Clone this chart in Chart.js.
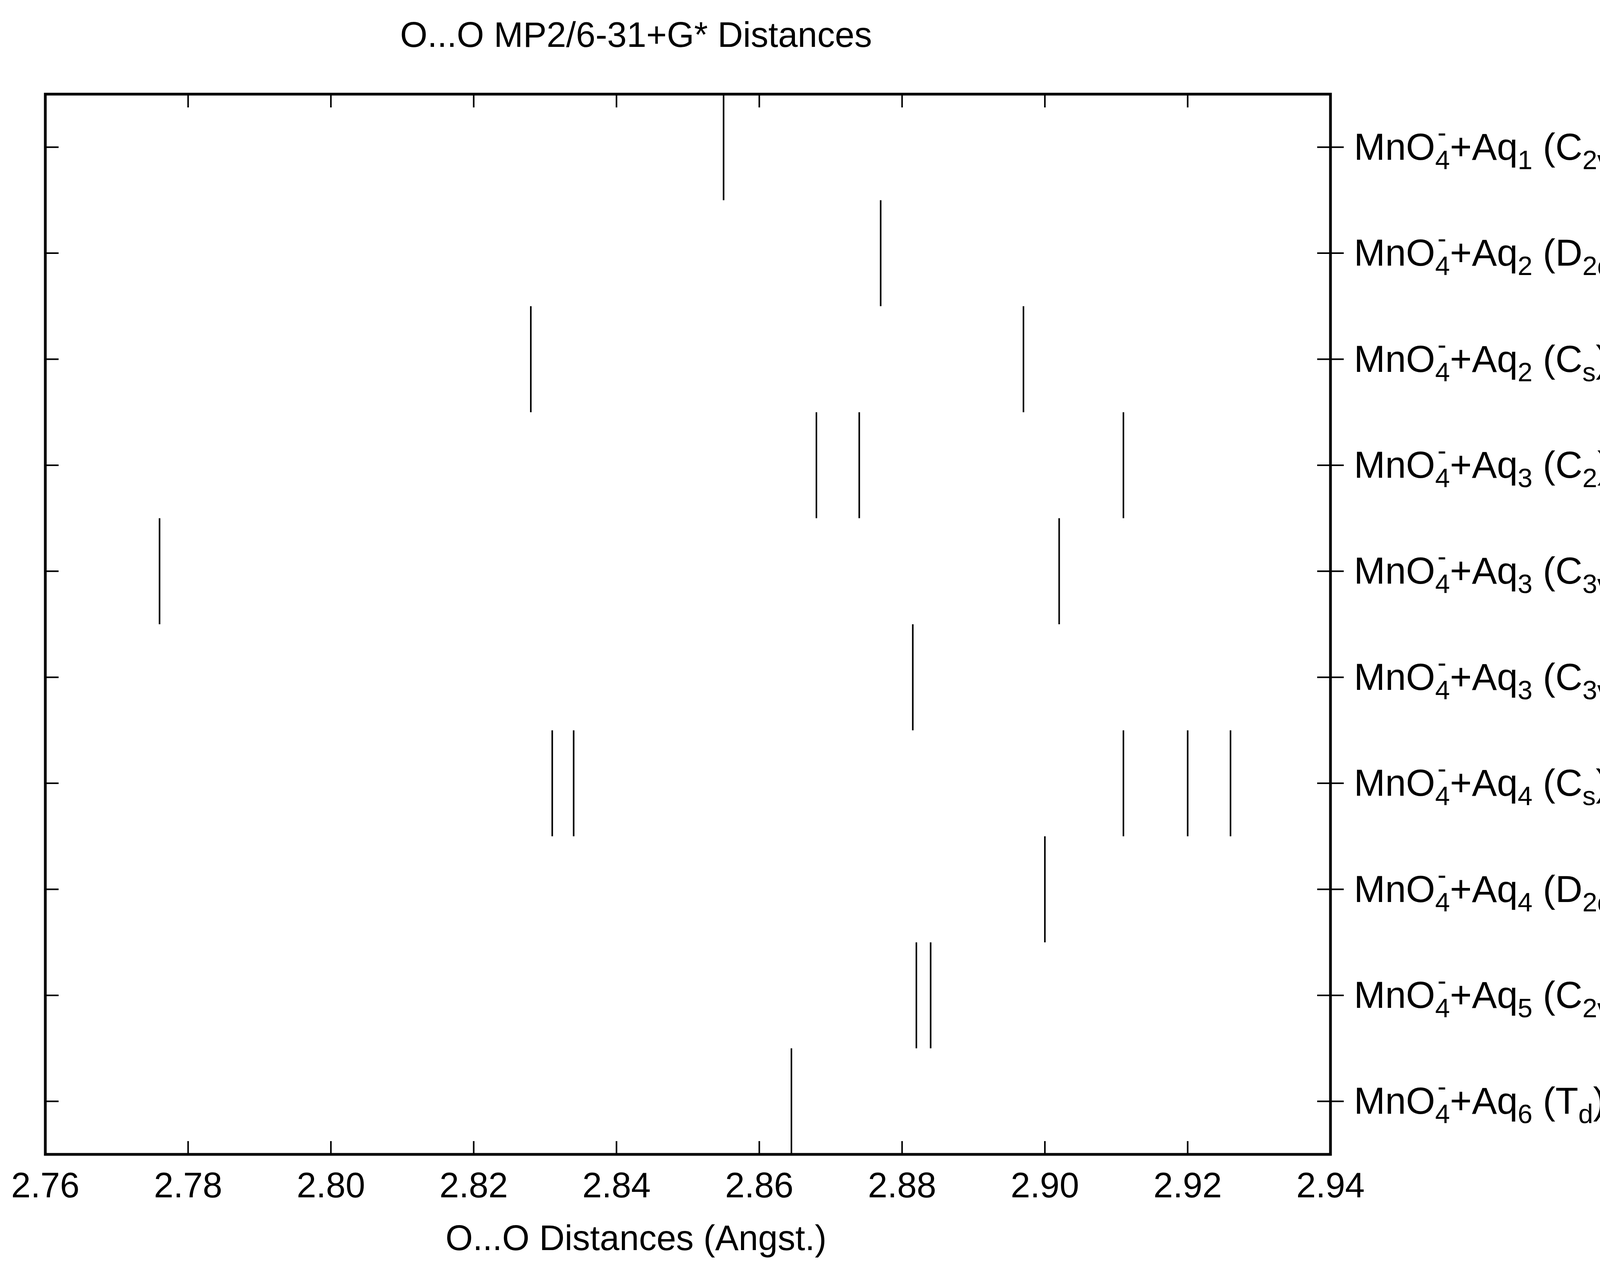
<!DOCTYPE html>
<html>
<head>
<meta charset="utf-8">
<script src="https://cdn.jsdelivr.net/npm/chart.js@4/dist/chart.umd.min.js"></script>
<style>
  html, body { margin: 0; padding: 0; background: #fff; }
  #wrap { width: 4342px; height: 3251px; }
</style>
</head>
<body>
<div id="wrap"><canvas id="chart"></canvas></div>
<script>
// rows from top to bottom
const rowLabels = [
  ['1', 'C', '2v', ''],
  ['2', 'D', '2d', ''],
  ['2', 'C', 's', ''],
  ['3', 'C', '2', ''],
  ['3', 'C', '3v', ' # 1'],
  ['3', 'C', '3v', ' # 2'],
  ['4', 'C', 's', ''],
  ['4', 'D', '2d', ''],
  ['5', 'C', '2v', ''],
  ['6', 'T', 'd', '']
];
const distances = [
  [2.855],
  [2.877],
  [2.828, 2.897],
  [2.868, 2.874, 2.911],
  [2.776, 2.902],
  [2.8815],
  [2.831, 2.834, 2.911, 2.920, 2.926],
  [2.900],
  [2.882, 2.884],
  [2.8645]
];
const xTicks = [2.76, 2.78, 2.80, 2.82, 2.84, 2.86, 2.88, 2.90, 2.92, 2.94];
const titleText = 'O...O MP2/6-31+G* Distances';
const xTitle = 'O...O Distances (Angst.)';

const nRows = rowLabels.length;
const datasets = [];
distances.forEach((vals, i) => {
  const yTop = nRows - i, yBot = nRows - i - 1;
  vals.forEach(v => {
    datasets.push({
      data: [{ x: v, y: yBot }, { x: v, y: yTop }],
      showLine: true, borderColor: '#000', borderWidth: 4,
      pointRadius: 0
    });
  });
});

const FONT = '"Liberation Sans", Arial, sans-serif';

const decor = {
  id: 'decor',
  afterDraw(chart) {
    const { ctx, chartArea: a, scales: { x, y } } = chart;
    ctx.save();
    ctx.strokeStyle = '#000';
    ctx.lineWidth = 7;
    ctx.strokeRect(a.left, a.top, a.right - a.left, a.bottom - a.top);
    ctx.lineWidth = 4;
    const tl = 34;
    ctx.beginPath();
    xTicks.slice(1, -1).forEach(t => {
      const px = x.getPixelForValue(t);
      ctx.moveTo(px, a.top); ctx.lineTo(px, a.top + tl);
      ctx.moveTo(px, a.bottom); ctx.lineTo(px, a.bottom - tl);
    });
    for (let i = 0; i < nRows; i++) {
      const py = y.getPixelForValue(nRows - i - 0.5);
      ctx.moveTo(a.left, py); ctx.lineTo(a.left + tl, py);
      ctx.moveTo(a.right - tl, py); ctx.lineTo(a.right + tl, py);
    }
    ctx.stroke();

    ctx.fillStyle = '#000';
    ctx.font = '90px ' + FONT;
    ctx.textAlign = 'center';
    ctx.textBaseline = 'top';
    xTicks.forEach(t => ctx.fillText(t.toFixed(2), x.getPixelForValue(t), a.bottom + 40));
    ctx.fillText(xTitle, x.getPixelForValue(2.84) + 50, a.bottom + 175);
    ctx.fillText(titleText, x.getPixelForValue(2.84) + 50, 50);

    // row labels with sub/superscripts
    ctx.textAlign = 'left';
    ctx.textBaseline = 'alphabetic';
    const big = '96px ' + FONT, small = '68px ' + FONT;
    rowLabels.forEach((r, i) => {
      const py = y.getPixelForValue(nRows - i - 0.5) + 32;
      let px = a.right + 60;
      const put = (txt, f, dy) => {
        ctx.font = f; ctx.fillText(txt, px, py + dy);
        return ctx.measureText(txt).width;
      };
      px += put('MnO', big, 0);
      const w1 = put('4', small, 24);
      px += 6;
      put('-', small, -46);
      px += w1 - 6;
      px += put('+Aq', big, 0);
      px += put(r[0], small, 24);
      px += put(' (' + r[1], big, 0);
      px += put(r[2], small, 24);
      px += put(r[3] + ')', big, 0);
    });
    ctx.restore();
  }
};

new Chart(document.getElementById('chart'), {
  type: 'scatter',
  data: { datasets },
  options: {
    responsive: true, maintainAspectRatio: false, animation: false,
    layout: { padding: { left: 116, right: 936, top: 241, bottom: 296 } },
    plugins: { legend: { display: false }, tooltip: { enabled: false } },
    scales: {
      x: { type: 'linear', min: 2.76, max: 2.94, display: false },
      y: { type: 'linear', min: 0, max: nRows, display: false }
    }
  },
  plugins: [decor]
});
</script>
</body>
</html>
